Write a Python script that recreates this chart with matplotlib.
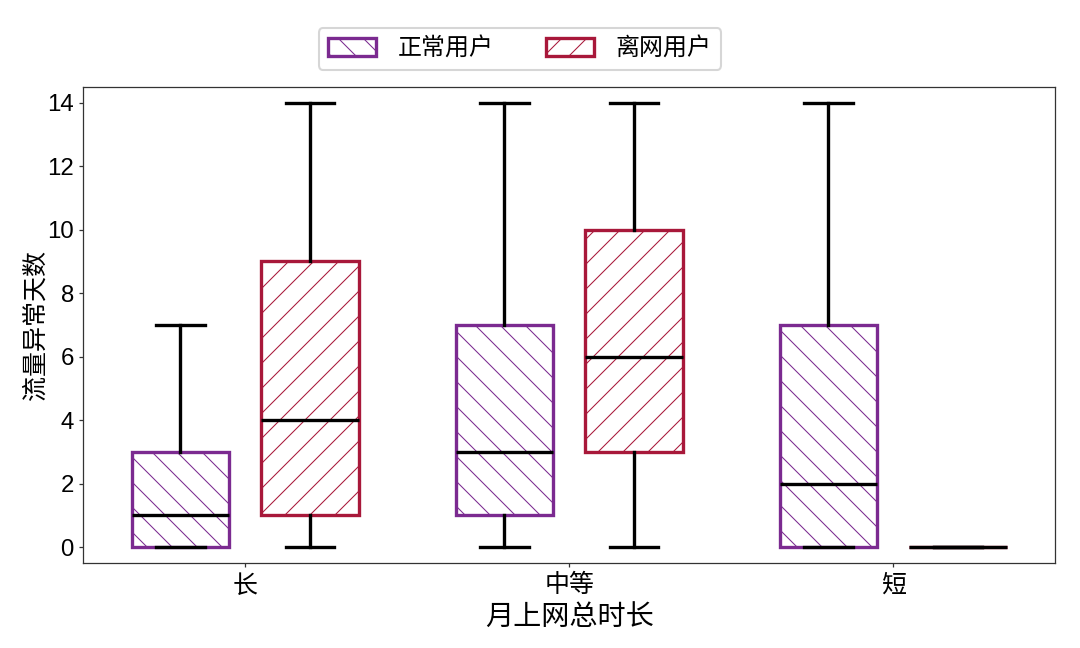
import matplotlib
matplotlib.use("Agg")
import matplotlib.pyplot as plt
from matplotlib.patches import Patch

plt.rcParams['font.family'] = ['Noto Sans CJK SC', 'DejaVu Sans']
plt.rcParams['hatch.linewidth'] = 0.5

categories = ['长', '中等', '短']
series = ['正常用户', '离网用户']
colors = ['#7b2a90', '#a8183a']
hatches = ['\\\\', '//']
# stats per series per category: (whislo, q1, med, q3, whishi)
normal_stats = [(0, 0, 1, 3, 7), (0, 1, 3, 7, 14), (0, 0, 2, 7, 14)]
churn_stats = [(0, 1, 4, 9, 14), (0, 3, 6, 10, 14), (0, 0, 0, 0, 0)]
all_stats = [normal_stats, churn_stats]

fig = plt.figure(figsize=(7.2, 4.32), dpi=150)
ax = fig.add_axes([0.077, 0.131, 0.900, 0.735])

offsets = [-0.2, 0.2]
for s, (stats, col, h, off) in enumerate(zip(all_stats, colors, hatches, offsets)):
    bstats = []
    for st in stats:
        lo, q1, med, q3, hi = st
        bstats.append(dict(whislo=lo, q1=q1, med=med, q3=q3, whishi=hi, fliers=[]))
    pos = [i + off for i in range(len(categories))]
    res = ax.bxp(bstats, positions=pos, widths=0.3, patch_artist=True,
                 showfliers=False,
                 boxprops=dict(facecolor='white', edgecolor=col, linewidth=1.6, hatch=h),
                 medianprops=dict(color='black', linewidth=1.6),
                 whiskerprops=dict(color='black', linewidth=1.6),
                 capprops=dict(color='black', linewidth=1.6),
                 capwidths=0.15, manage_ticks=False)
    for b in res['boxes']:
        b.set_zorder(2)
    for m in res['medians']:
        m.set_zorder(3)

ax.set_xlim(-0.5, 2.5)
ax.set_ylim(-0.5, 14.5)
ax.set_xticks(range(len(categories)))
ax.set_xticklabels(categories, fontsize=12)
ax.set_yticks(range(0, 15, 2))
ax.set_yticklabels([str(v) for v in range(0, 15, 2)], fontsize=11.5,
                   family=['Liberation Sans', 'DejaVu Sans'])
ax.set_xlabel('月上网总时长', fontsize=13.5, labelpad=2)
ax.set_ylabel('流量异常天数', fontsize=12)
ax.yaxis.set_label_coords(-0.036, 0.5)
for sp in ax.spines.values():
    sp.set_color('#333333')
    sp.set_linewidth(0.6)
ax.tick_params(color='#333333', width=0.6, length=2, pad=2.5)

handles = [Patch(facecolor='white', edgecolor=c, hatch=h, linewidth=1.6, label=l)
           for c, h, l in zip(colors, hatches, series)]
fig.legend(handles=handles, loc='center', bbox_to_anchor=(520/1080, 1 - 49/648),
           ncol=2, fontsize=11.5, handlelength=2.0, handleheight=0.75,
           handletextpad=0.9, columnspacing=2.2, frameon=True)

fig.savefig('out.png', dpi=150)
